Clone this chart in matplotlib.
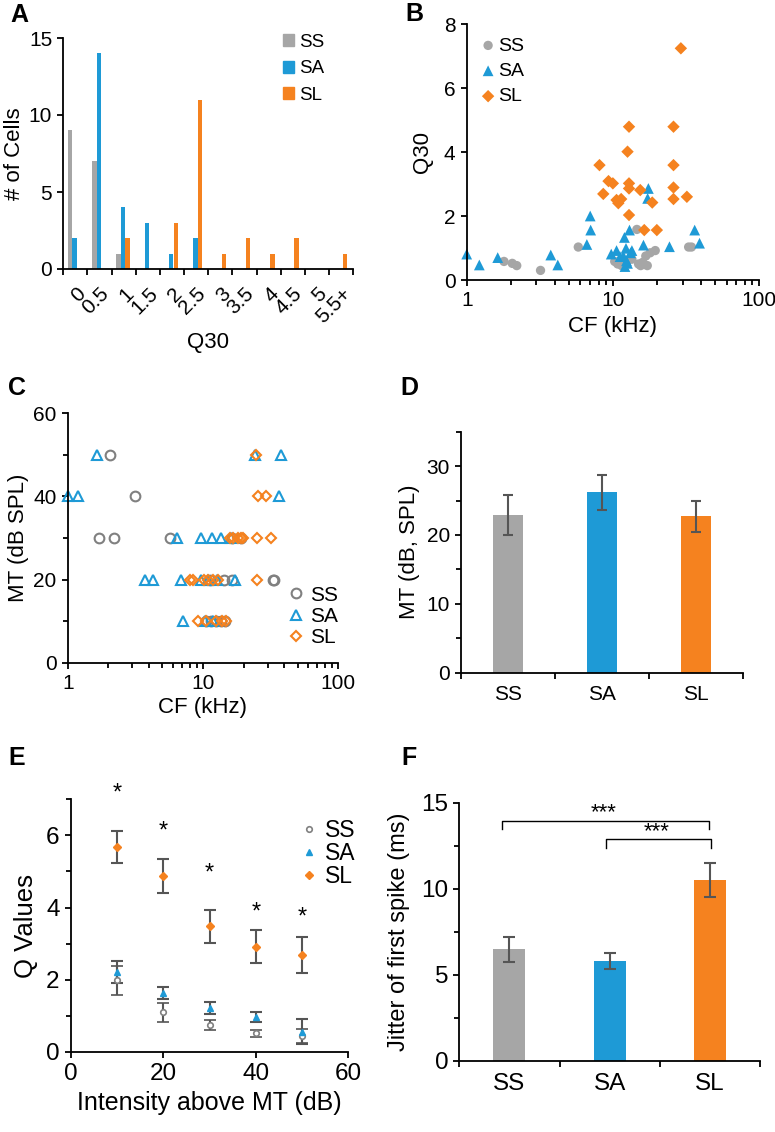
import numpy as np
import matplotlib
matplotlib.use('Agg')
import matplotlib.pyplot as plt
from matplotlib.patches import Patch
from matplotlib.lines import Line2D
from matplotlib.ticker import NullFormatter

plt.rcParams['font.family'] = ['Liberation Sans', 'DejaVu Sans']

GRAY = '#a6a6a6'
BLUE = '#1e9ad6'
ORANGE = '#f5821f'
ERR = '#555555'

# ---- A: Q30 histogram ----
q30_bins = ['0', '0.5', '1', '1.5', '2', '2.5', '3', '3.5', '4', '4.5', '5', '5.5+']
hist_ss = [9, 7, 1, 0, 0, 0, 0, 0, 0, 0, 0, 0]
hist_sa = [2, 14, 4, 3, 1, 2, 0, 0, 0, 0, 0, 0]
hist_sl = [0, 0, 2, 0, 3, 11, 1, 2, 1, 2, 0, 1]

# ---- B: Q30 vs CF ----
b_ss_cf = [1.8, 2.05, 2.2, 3.2, 5.8, 10.3, 10.8, 11.5, 12.5, 13.5, 14.6, 15.0,
           15.5, 16.0, 16.8, 17.2, 18.0, 19.5, 33.0, 34.5]
b_ss_q = [0.58, 0.52, 0.45, 0.3, 1.03, 0.58, 0.5, 0.45, 0.6, 0.65, 1.58, 0.5,
          0.45, 0.55, 0.75, 0.45, 0.85, 0.92, 1.03, 1.03]
b_sa_cf = [1.0, 1.22, 1.63, 3.76, 4.2, 6.64, 7.0, 7.05, 9.75, 10.6, 11.2, 12.1,
           12.0, 12.3, 12.6, 13.0, 13.5, 12.4, 11.8, 13.2, 16.2, 17.5, 17.3,
           24.4, 36.3, 39.2]
b_sa_q = [0.81, 0.47, 0.7, 0.78, 0.47, 1.11, 2.0, 1.56, 0.81, 0.92, 0.73, 0.42,
          1.33, 0.99, 0.52, 1.56, 0.92, 0.6, 0.75, 0.85, 1.09, 2.86, 2.55,
          1.04, 1.56, 1.15]
b_sl_cf = [8.1, 8.6, 9.34, 10.0, 10.6, 10.9, 11.4, 12.6, 12.9, 12.9, 12.9, 12.9,
           15.4, 16.4, 18.6, 20.0, 26.0, 26.0, 26.0, 26.0, 32.1, 29.2]
b_sl_q = [3.59, 2.69, 3.09, 3.02, 2.5, 2.4, 2.53, 4.01, 4.79, 3.02, 2.86, 2.03,
          2.81, 1.56, 2.42, 1.56, 4.79, 3.59, 2.89, 2.53, 2.6, 7.24]

# ---- C: MT vs CF ----
c_ss_cf = [2.05, 3.14, 1.7, 2.2, 5.74, 11.3, 14.2, 16.4, 32.8, 33.5, 16.4, 19.1,
           10.6, 11.5, 12.5, 13.5, 14.5]
c_ss_mt = [50, 40, 30, 30, 30, 20, 20, 20, 20, 20, 30, 30, 10, 10, 10, 10, 10]
c_sa_cf = [1.64, 24.4, 37.8, 1.0, 1.2, 36.3, 6.43, 9.72, 11.7, 13.6, 16.0, 3.72,
           4.24, 6.92, 9.7, 10.9, 12.6, 17.1, 7.12, 10.3, 11.9]
c_sa_mt = [50, 50, 50, 40, 40, 40, 30, 30, 30, 30, 30, 20, 20, 20, 20, 20, 20,
           20, 10, 10, 10]
c_sl_cf = [24.7, 25.4, 29.3, 15.7, 16.6, 18.1, 19.2, 19.7, 25.2, 31.6, 8.0, 8.4,
           10.1, 10.9, 11.9, 12.9, 25.2, 9.2, 10.6, 12.5, 13.9, 14.8]
c_sl_mt = [50, 40, 40, 30, 30, 30, 30, 30, 30, 30, 20, 20, 20, 20, 20, 20, 20,
           10, 10, 10, 10, 10]

# ---- D and F: group bars ----
groups = ['SS', 'SA', 'SL']
group_colors = [GRAY, BLUE, ORANGE]
mt_mean = [22.9, 26.2, 22.7]
mt_sem = [2.9, 2.5, 2.3]
jitter_mean = [6.47, 5.81, 10.48]
jitter_sem = [0.74, 0.47, 0.99]

# ---- E: Q values vs intensity ----
intensity = [10, 20, 30, 40, 50]
qv_ss = [1.99, 1.10, 0.75, 0.52, 0.44]
qv_ss_err = [0.40, 0.27, 0.15, 0.10, 0.20]
qv_sa = [2.22, 1.64, 1.22, 0.97, 0.56]
qv_sa_err = [0.31, 0.17, 0.17, 0.15, 0.35]
qv_sl = [5.68, 4.88, 3.48, 2.92, 2.68]
qv_sl_err = [0.45, 0.48, 0.45, 0.45, 0.50]
star_y = [7.15, 6.12, 4.95, 3.85, 3.72]

W, H = 775, 1132
fig = plt.figure(figsize=(W / 100, H / 100), dpi=100)


def px_axes(l, t, r, b):
    return fig.add_axes([l / W, 1 - b / H, (r - l) / W, (b - t) / H])


def style(ax, fs):
    for s in ['top', 'right']:
        ax.spines[s].set_visible(False)
    for s in ['left', 'bottom']:
        ax.spines[s].set_linewidth(1.3)
    ax.tick_params(which='both', direction='out', width=1.3, labelsize=fs,
                   colors='black')
    ax.tick_params(which='major', length=4.5)
    ax.tick_params(which='minor', length=3.5)


def boundary_xaxis(ax, n):
    ax.set_xlim(-0.5, n - 0.5)
    ax.set_xticks(range(n))
    ax.set_xticks(np.arange(-0.5, n, 1.0), minor=True)
    ax.tick_params(axis='x', which='major', length=0)
    ax.tick_params(axis='x', which='minor', length=4.5)
    ax.xaxis.set_minor_formatter(NullFormatter())


# Panel A
axA = px_axes(63.3, 38, 353.3, 269)
style(axA, 15)
x = np.arange(len(q30_bins))
bw = 0.18
axA.bar(x - 0.21, hist_ss, bw, color=GRAY, label='SS')
axA.bar(x - 0.03, hist_sa, bw, color=BLUE, label='SA')
axA.bar(x + 0.15, hist_sl, bw, color=ORANGE, label='SL')
boundary_xaxis(axA, len(q30_bins))
axA.set_xticklabels(q30_bins, rotation=45, ha='right', va='top',
                    rotation_mode='anchor')
axA.tick_params(axis='x', which='major', pad=11)
axA.set_ylim(0, 15)
axA.set_yticks([0, 5, 10, 15])
axA.set_ylabel('# of Cells', fontsize=16, labelpad=3)
axA.set_xlabel('Q30', fontsize=16, labelpad=4)
hA = [Patch(color=c) for c in group_colors]
axA.legend(hA, groups, loc='upper left', bbox_to_anchor=(0.73, 1.05),
           frameon=False, fontsize=13.5, handlelength=0.6, handleheight=0.6,
           handletextpad=0.3, labelspacing=0.5, borderaxespad=0)

# Panel B
axB = px_axes(466.7, 24, 759, 280)
style(axB, 15)
axB.set_xscale('log')
axB.scatter(b_ss_cf, b_ss_q, s=45, c=GRAY, marker='o', edgecolors='none',
            label='SS', clip_on=False)
axB.scatter(b_sa_cf, b_sa_q, s=60, c=BLUE, marker='^', edgecolors='none',
            label='SA', clip_on=False)
axB.scatter(b_sl_cf, b_sl_q, s=40, c=ORANGE, marker='D', edgecolors='none',
            label='SL', clip_on=False)
axB.set_xlim(1, 100)
axB.set_ylim(0, 8)
axB.set_xticks([1, 10, 100])
axB.set_xticklabels(['1', '10', '100'])
axB.xaxis.set_minor_formatter(NullFormatter())
axB.set_yticks([0, 2, 4, 6, 8])
axB.set_xlabel('CF (kHz)', fontsize=16, labelpad=4)
axB.set_ylabel('Q30', fontsize=16, labelpad=8)
axB.legend(loc='upper left', bbox_to_anchor=(0.02, 0.98), frameon=False,
           fontsize=14, handlelength=0.8, handletextpad=0.1,
           labelspacing=0.4, borderaxespad=0, scatterpoints=1)

# Panel C
axC = px_axes(67.7, 413.3, 338.3, 662.7)
style(axC, 15)
axC.set_xscale('log')
axC.plot(c_ss_cf, c_ss_mt, 'o', ms=7, mfc='none', mec='#808080', mew=1.5,
         label='SS', clip_on=False)
axC.plot(c_sa_cf, c_sa_mt, '^', ms=7.5, mfc='none', mec=BLUE, mew=1.5,
         label='SA', clip_on=False)
axC.plot(c_sl_cf, c_sl_mt, 'D', ms=5.5, mfc='none', mec=ORANGE, mew=1.5,
         label='SL', clip_on=False)
axC.set_xlim(1, 100)
axC.set_ylim(0, 60)
axC.set_xticks([1, 10, 100])
axC.set_xticklabels(['1', '10', '100'])
axC.xaxis.set_minor_formatter(NullFormatter())
axC.set_yticks([0, 20, 40, 60])
axC.set_yticks([10, 30, 50], minor=True)
axC.set_xlabel('CF (kHz)', fontsize=16, labelpad=3)
axC.set_ylabel('MT (dB SPL)', fontsize=16, labelpad=3)
axC.legend(loc='lower right', bbox_to_anchor=(1.03, 0.03), frameon=False,
           fontsize=15, handlelength=0.8, handletextpad=0.3,
           labelspacing=0.1, borderaxespad=0)

# Panel D
axD = px_axes(461, 431.7, 743.3, 672.7)
style(axD, 15)
xg = np.arange(len(groups))
axD.bar(xg, mt_mean, 0.32, color=group_colors)
axD.errorbar(xg, mt_mean, yerr=mt_sem, fmt='none', ecolor=ERR, elinewidth=1.5,
             capsize=3.5, capthick=1.5)
boundary_xaxis(axD, 3)
axD.set_xticklabels(groups)
axD.tick_params(axis='x', which='major', pad=9)
axD.set_ylim(0, 35)
axD.set_yticks([0, 10, 20, 30])
axD.set_yticks([5, 15, 25, 35], minor=True)
axD.set_ylabel('MT (dB, SPL)', fontsize=16, labelpad=5)

# Panel E
axE = px_axes(70.7, 799.3, 348.3, 1052)
style(axE, 17.5)
axE.errorbar(intensity, qv_ss, yerr=qv_ss_err, fmt='o', ms=4, mfc='white',
             mec='#808080', mew=1.2, ecolor=ERR, elinewidth=1.5, capsize=4.5,
             capthick=1.5, label='SS')
axE.errorbar(intensity, qv_sa, yerr=qv_sa_err, fmt='^', ms=5, color=BLUE,
             ecolor=ERR, elinewidth=1.5, capsize=4.5, capthick=1.5, label='SA')
axE.errorbar(intensity, qv_sl, yerr=qv_sl_err, fmt='D', ms=4, color=ORANGE,
             ecolor=ERR, elinewidth=1.5, capsize=4.5, capthick=1.5, label='SL')
for xi, yi in zip(intensity, star_y):
    axE.text(xi, yi, '*', ha='center', va='center', fontsize=17)
axE.set_xlim(0, 60)
axE.set_ylim(0, 7)
axE.set_xticks([0, 20, 40, 60])
axE.set_yticks([0, 2, 4, 6])
axE.set_yticks([1, 3, 5, 7], minor=True)
axE.set_xlabel('Intensity above MT (dB)', fontsize=18, labelpad=4)
axE.set_ylabel('Q Values', fontsize=18.5, labelpad=6)
hE = [Line2D([], [], ls='none', marker='o', ms=4, mfc='white', mec='#808080',
             mew=1.2),
      Line2D([], [], ls='none', marker='^', ms=5, color=BLUE),
      Line2D([], [], ls='none', marker='D', ms=4, color=ORANGE)]
axE.legend(hE, groups, loc='upper left', bbox_to_anchor=(0.8, 0.96),
           frameon=False, fontsize=16.5, handlelength=0.6, handletextpad=0.4,
           labelspacing=0.0, borderaxespad=0)

# Panel F
axF = px_axes(459.3, 802.7, 760, 1060.7)
style(axF, 17.5)
axF.bar(xg, jitter_mean, 0.32, color=group_colors)
axF.errorbar(xg, jitter_mean, yerr=jitter_sem, fmt='none', ecolor=ERR,
             elinewidth=1.5, capsize=4, capthick=1.5)
boundary_xaxis(axF, 3)
axF.set_xticklabels(groups)
axF.tick_params(axis='x', which='major', pad=9)
axF.set_ylim(0, 15)
axF.set_yticks([0, 5, 10, 15])
axF.set_yticks([2.5, 7.5, 12.5], minor=True)
axF.set_ylabel('Jitter of first spike (ms)', fontsize=17, labelpad=8)
brackets = [(-0.07, 1.99, 13.45, 13.95), (0.96, 2.01, 12.34, 12.87)]
for x0, x1, ylo, yhi in brackets:
    axF.plot([x0, x0, x1, x1], [ylo, yhi, yhi, ylo], color='black', lw=1,
             clip_on=False)
    axF.text((x0 + x1) / 2 - 0.02, yhi - 0.15, '***', ha='center',
             va='bottom', fontsize=16)

# Panel letters
for lx, ly, letter in [(10, 15, 'A'), (405, 14, 'B'), (8, 388, 'C'),
                       (400, 388, 'D'), (8, 758, 'E'), (401, 758, 'F')]:
    fig.text(lx / W, 1 - ly / H, letter, fontsize=18, fontweight='bold',
             ha='left', va='center')

fig.savefig('out.png', dpi=100)
